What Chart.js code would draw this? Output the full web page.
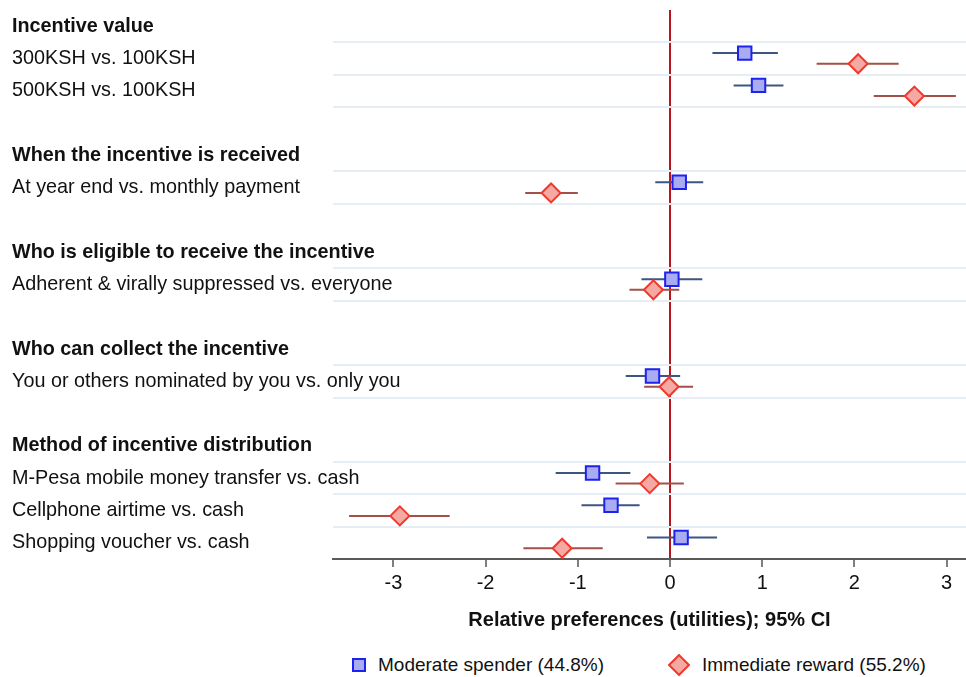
<!DOCTYPE html>
<html>
<head>
<meta charset="utf-8">
<script src="https://cdn.jsdelivr.net/npm/chart.js@4.4.1/dist/chart.umd.min.js"></script>
<style>
  body { margin: 0; background: #fff; }
  #page { position: relative; width: 966px; height: 677px; }
  #wrap { position: absolute; left: 0; top: 0; width: 966px; height: 648px; }
  #legend { position: absolute; left: 0; top: 648px; width: 966px; height: 29px;
            font-family: "Liberation Sans", Arial, sans-serif; font-size: 19px; color: #111; }
  .item { position: absolute; top: 6px; display: flex; align-items: center; height: 22px; }
  .mark { box-sizing: border-box; border: 2px solid; margin-right: 12px; }
  .mark.rect { width: 14px; height: 14px; }
  .mark.rectRot { width: 16px; height: 16px; transform: rotate(45deg); margin-left: 3px; margin-right: 15px; }
</style>
</head>
<body>
<div id="page">
  <div id="wrap"><canvas id="forest"></canvas></div>
  <div id="legend"></div>
</div>
<script>
// rows of the plot, top to bottom (headers + attribute levels + blank spacers)
const rowLabels = [
    'Incentive value',
    '300KSH vs. 100KSH',
    '500KSH vs. 100KSH',
    '',
    'When the incentive is received',
    'At year end vs. monthly payment',
    '',
    'Who is eligible to receive the incentive',
    'Adherent & virally suppressed vs. everyone',
    '',
    'Who can collect the incentive',
    'You or others nominated by you vs. only you',
    '',
    'Method of incentive distribution',
    'M-Pesa mobile money transfer vs. cash',
    'Cellphone airtime vs. cash',
    'Shopping voucher vs. cash'
];
const headerRows = [0, 4, 7, 10, 13];
const itemRows = [1, 2, 5, 8, 11, 14, 15, 16];

// Moderate spender (44.8%)
const moderate   = [0.81, 0.96, 0.10, 0.02, -0.19, -0.84, -0.64, 0.12];
const moderateLo = [0.46, 0.69, -0.16, -0.31, -0.48, -1.24, -0.96, -0.25];
const moderateHi = [1.17, 1.23, 0.36, 0.35, 0.11, -0.43, -0.33, 0.51];

// Immediate reward (55.2%)
const immediate   = [2.04, 2.65, -1.29, -0.18, -0.01, -0.22, -2.93, -1.17];
const immediateLo = [1.59, 2.21, -1.57, -0.44, -0.28, -0.59, -3.48, -1.59];
const immediateHi = [2.48, 3.10, -1.00, 0.10, 0.25, 0.15, -2.39, -0.73];

const xTicks = [-3, -2, -1, 0, 1, 2, 3];
const seriesNames = ['Moderate spender (44.8%)', 'Immediate reward (55.2%)'];

const FONT = '"Liberation Sans", Arial, Helvetica, sans-serif';
const shift = 0.165;

function points(vals, off) {
    return vals.map((v, i) => ({ x: v, y: itemRows[i] + 0.5 + off }));
}

// each CI is a two-point segment, separated by gaps
function ciSegments(lo, hi, off) {
    const out = [];
    lo.forEach((l, i) => {
        const y = itemRows[i] + 0.5 + off;
        out.push({ x: l, y: y }, { x: hi[i], y: y }, { x: null, y: null });
    });
    return out;
}

// boundaries of the item rows get a light grid line
const gridLines = [];
itemRows.forEach(r => {
    if (!gridLines.includes(r)) gridLines.push(r);
    if (r + 1 < rowLabels.length && !gridLines.includes(r + 1)) gridLines.push(r + 1);
});

// html legend built from the chart's own legend items
const htmlLegend = {
    id: 'htmlLegend',
    afterUpdate(chart) {
        const box = document.getElementById('legend');
        box.innerHTML = '';
        const items = chart.options.plugins.legend.labels.generateLabels(chart)
            .filter(it => !it.text.startsWith('ci-'));
        const lefts = [352, 668];
        items.forEach((it, i) => {
            const div = document.createElement('div');
            div.className = 'item';
            div.style.left = lefts[i] + 'px';
            const mark = document.createElement('span');
            mark.className = 'mark ' + it.pointStyle;
            mark.style.background = it.fillStyle;
            mark.style.borderColor = it.strokeStyle;
            const txt = document.createElement('span');
            txt.textContent = it.text;
            div.appendChild(mark);
            div.appendChild(txt);
            box.appendChild(div);
        });
    }
};

const ctx = document.getElementById('forest').getContext('2d');
new Chart(ctx, {
    type: 'scatter',
    data: {
        datasets: [
            {
                label: seriesNames[0],
                data: points(moderate, -shift),
                pointStyle: 'rect',
                pointRadius: 9.5,
                backgroundColor: '#a9acf2',
                borderColor: '#1c22f0',
                borderWidth: 2,
                order: 0
            },
            {
                label: seriesNames[1],
                data: points(immediate, shift),
                pointStyle: 'rectRot',
                pointRadius: 9.5,
                backgroundColor: '#f4aaa3',
                borderColor: '#f0392c',
                borderWidth: 2,
                order: 0
            },
            {
                label: 'ci-moderate',
                type: 'line',
                data: ciSegments(moderateLo, moderateHi, -shift),
                borderColor: '#3c5680',
                borderWidth: 2,
                pointRadius: 0,
                spanGaps: false,
                order: 1
            },
            {
                label: 'ci-immediate',
                type: 'line',
                data: ciSegments(immediateLo, immediateHi, shift),
                borderColor: '#a4504a',
                borderWidth: 2,
                pointRadius: 0,
                spanGaps: false,
                order: 1
            }
        ]
    },
    plugins: [htmlLegend],
    options: {
        responsive: true,
        maintainAspectRatio: false,
        animation: false,
        layout: { autoPadding: false, padding: { left: 12, top: 10, right: 0, bottom: 0 } },
        plugins: {
            tooltip: { enabled: false },
            legend: {
                display: false,
                labels: { usePointStyle: true }
            }
        },
        scales: {
            x: {
                type: 'linear',
                min: -3.655,
                max: 3.21,
                afterBuildTicks: scale => { scale.ticks = xTicks.map(v => ({ value: v })); },
                ticks: {
                    color: '#111',
                    font: { family: FONT, size: 20 },
                    padding: 4,
                    callback: v => String(v)
                },
                grid: {
                    color: c => (c.tick && c.tick.value === 0 ? '#bb141c' : 'rgba(0,0,0,0)'),
                    lineWidth: c => (c.tick && c.tick.value === 0 ? 2 : 0),
                    drawTicks: true,
                    tickLength: 8,
                    tickColor: '#555',
                    tickWidth: 1.5
                },
                border: { display: true, color: '#5a5a5a', width: 2 },
                title: {
                    display: true,
                    text: 'Relative preferences (utilities); 95% CI',
                    color: '#111',
                    font: { family: FONT, size: 20, weight: 'bold' },
                    padding: { top: 9, bottom: 16 }
                }
            },
            y: {
                type: 'linear',
                position: 'left',
                min: 0,
                max: rowLabels.length,
                reverse: true,
                afterBuildTicks: scale => {
                    scale.ticks = rowLabels.map((t, i) => ({ value: i + 0.5 }));
                },
                afterFit: scale => { scale.width = 321; },
                ticks: {
                    autoSkip: false,
                    mirror: true,
                    crossAlign: 'near',
                    padding: -321,
                    color: '#111',
                    font: c => ({
                        family: FONT,
                        size: 19.8,
                        weight: headerRows.includes(c.index) ? 'bold' : 'normal'
                    }),
                    callback: (v, i) => rowLabels[i]
                },
                grid: { display: false },
                border: { display: false }
            },
            yg: {
                type: 'linear',
                position: 'left',
                min: 0,
                max: rowLabels.length,
                reverse: true,
                afterBuildTicks: scale => { scale.ticks = gridLines.map(v => ({ value: v })); },
                afterFit: scale => { scale.width = 0; },
                ticks: { display: false },
                grid: { color: '#e7eef3', lineWidth: 2, drawTicks: false },
                border: { display: false }
            }
        }
    }
});
</script>
</body>
</html>
